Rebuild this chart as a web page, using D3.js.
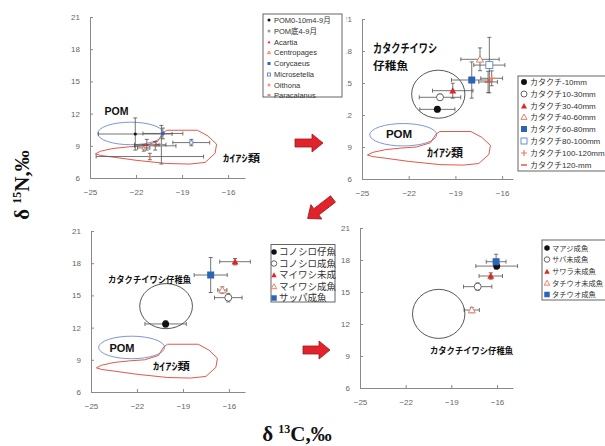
<!DOCTYPE html>
<html><head><meta charset="utf-8">
<script src="https://cdn.jsdelivr.net/npm/d3@7"></script>
<style>body{margin:0;background:#fff}</style>
</head><body>
<svg id="c" width="605" height="446"></svg>
<script>
// Axis ticks shared by the four δ13C–δ15N panels
const xTicks = [-25, -22, -19, -16];
const yTicks = [6, 9, 12, 15, 18, 21];

// Panel A: POM and copepods
const zooNames = ["POM0-10m4-9月", "POM底4-9月", "Acartia", "Centropages", "Corycaeus", "Microsetella", "Oithona", "Paracalanus"];
const zooC    = [-22.05, -20.35, -21.3, -21.5, -20.25, -18.4, -21.1, -20.75];
const zooN    = [10.1, 9.1, 9.1, 8.8, 10.15, 9.3, 8.0, 9.0];
const zooCErr = [2.4, 0.3, 0.8, 0.4, 1.3, 1.2, 3.5, 1.35];
const zooNErr = [1.5, 1.8, 0.5, 0.3, 0.5, 0.3, 0.3, 0.4];

// Panel B: カタクチイワシ by body length
const anchNames = ["カタクチ-10mm", "カタクチ10-30mm", "カタクチ30-40mm", "カタクチ40-60mm", "カタクチ60-80mm", "カタクチ80-100mm", "カタクチ100-120mm", "カタクチ120-mm"];
const anchC    = [-20.16, -19.99, -19.17, -17.42, -17.95, -16.82, -16.67, -16.9];
const anchN    = [12.53, 13.66, 14.28, 17.22, 15.28, 16.68, 15.44, 15.1];
const anchCErr = [1.13, 1.33, 1.3, 1.23, 1.3, 1.0, 0.7, 0.6];
const anchNErr = [0.25, 0.3, 0.7, 1.07, 1.7, 2.6, 0.7, 1.0];

// Panel C: planktivorous fishes
const fishCNames = ["コノシロ仔魚", "コノシロ成魚", "マイワシ未成", "マイワシ成魚", "サッパ成魚"];
const fishCC    = [-20.13, -16.04, -15.6, -16.43, -17.19];
const fishCN    = [12.34, 14.79, 18.14, 15.5, 16.9];
const fishCCErr = [1.35, 0.9, 1.0, 0.3, 1.08];
const fishCNErr = [0.3, 0.4, 0.3, 0.3, 1.63];

// Panel D: piscivorous fishes
const fishDNames = ["マアジ成魚", "サバ未成魚", "サワラ未成魚", "タチウオ未成魚", "タチウオ成魚"];
const fishDC    = [-16.02, -17.27, -16.41, -17.66, -16.06];
const fishDN    = [17.43, 15.5, 16.5, 13.31, 17.84];
const fishDCErr = [1.37, 0.93, 0.77, 0.5, 0.65];
const fishDNErr = [0.25, 0.35, 0.3, 0.25, 0.7];

// Reference regions (δ13C, δ15N)
const copepodC = [-24.65, -24.3, -23.5, -22.5, -21.5, -20.6, -20.25, -20.0, -18.0, -17.3, -16.75, -16.85, -17.5, -18.5, -20.0, -22.0, -23.5, -24.3];
const copepodN = [8.25, 8.5, 8.75, 8.9, 9.0, 9.4, 10.2, 10.45, 10.45, 9.9, 9.15, 8.3, 7.45, 7.3, 7.35, 7.65, 7.95, 8.1];
const pomEllipse = [-22.35, 10.15, 2.15, 1.05];      // centre C, centre N, half-width, half-height
const anchCircleB = [-20.1, 13.95, 1.71, 2.25];
const anchCircleC = [-20.1, 14.0, 1.72, 2.1];
const anchCircleD = [-19.83, 12.95, 1.72, 2.3];

// Marker styles
const zooStyle  = [["circle", "#111"], ["circle", "#9a9a9a"], ["tri", "#e02626"], ["triOpen", "#e8735c"], ["square", "#2c64b8"], ["squareOpen", "#5a86c8"], ["plus", "#f07a5a"], ["dash", "#e84a3a"]];
const anchStyle = [["circle", "#111"], ["circleOpen", "#555"], ["tri", "#e02626"], ["triOpen", "#e8735c"], ["square", "#2c64b8"], ["squareOpen", "#5a86c8"], ["plus", "#f07a5a"], ["dash", "#e84a3a"]];
const fishStyle = [["circle", "#111"], ["circleOpen", "#555"], ["tri", "#e02626"], ["triOpen", "#e8735c"], ["square", "#2c64b8"]];

const svg = d3.select("#c");
const jp = "'Noto Sans CJK JP', sans-serif";
const sans = "'Liberation Sans', Arial, 'Noto Sans CJK JP', sans-serif";

function makePanel(xr, xmax, yr) {
  return {
    x: d3.scaleLinear().domain([-25, xmax]).range(xr),
    y: d3.scaleLinear().domain([6, 21]).range(yr)
  };
}
const PA = makePanel([90, 245], -14.9, [178, 17]);
const PB = makePanel([362, 513], -15.3, [179, 19]);
const PC = makePanel([91, 245], -14.95, [392, 231]);
const PD = makePanel([360, 513], -14.95, [388, 228]);

function drawAxes(P, clipX) {
  const g = svg.append("g");
  const ax = g.append("g").attr("transform", `translate(0,${P.y(6)})`)
    .call(d3.axisBottom(P.x).tickValues(xTicks).tickSizeInner(-3).tickSizeOuter(0).tickPadding(11));
  const ay = g.append("g").attr("transform", `translate(${P.x(-25)},0)`)
    .call(d3.axisLeft(P.y).tickValues(yTicks).tickSizeInner(-3).tickSizeOuter(0).tickPadding(10));
  [ax, ay].forEach(a => {
    a.select(".domain").attr("stroke", "#8a8a8a");
    a.selectAll(".tick line").attr("stroke", "#8a8a8a");
    a.selectAll(".tick text").attr("fill", "#666").attr("font-family", sans).attr("font-size", 8);
  });
  if (clipX !== undefined) {
    const id = "clipY" + Math.round(clipX);
    svg.append("clipPath").attr("id", id).append("rect")
      .attr("x", clipX - P.x(-25)).attr("y", -20).attr("width", 40).attr("height", 400);
    ay.selectAll(".tick text").attr("clip-path", `url(#${id})`);
  }
  return g;
}

function drawCopepods(P) {
  const line = d3.line().x(d => P.x(d[0])).y(d => P.y(d[1])).curve(d3.curveLinearClosed);
  svg.append("path").attr("d", line(d3.zip(copepodC, copepodN)))
    .attr("fill", "none").attr("stroke", "#e2584a").attr("stroke-width", 1);
}
function drawPom(P) {
  const [c, n, rc, rn] = pomEllipse;
  svg.append("ellipse").attr("cx", P.x(c)).attr("cy", P.y(n))
    .attr("rx", P.x(c + rc) - P.x(c)).attr("ry", P.y(n) - P.y(n + rn))
    .attr("fill", "none").attr("stroke", "#7b98d4").attr("stroke-width", 1);
}
function drawRing(P, e) {
  const [c, n, rc, rn] = e;
  svg.append("ellipse").attr("cx", P.x(c)).attr("cy", P.y(n))
    .attr("rx", P.x(c + rc) - P.x(c)).attr("ry", P.y(n) - P.y(n + rn))
    .attr("fill", "none").attr("stroke", "#444").attr("stroke-width", 0.9);
}

function marker(g, type, color, cx, cy, s) {
  const h = s / 2;
  if (type === "circle" || type === "circleOpen") {
    g.append("circle").attr("cx", cx).attr("cy", cy).attr("r", h)
      .attr("fill", type === "circle" ? color : "#fff")
      .attr("stroke", color).attr("stroke-width", type === "circle" ? 0 : 0.9);
  } else if (type === "tri" || type === "triOpen") {
    g.append("path").attr("d", `M${cx},${cy - h}L${cx + h},${cy + h * 0.8}L${cx - h},${cy + h * 0.8}Z`)
      .attr("fill", type === "tri" ? color : "#fff").attr("stroke", color).attr("stroke-width", type === "tri" ? 0 : 0.9);
  } else if (type === "square" || type === "squareOpen") {
    g.append("rect").attr("x", cx - h).attr("y", cy - h).attr("width", s).attr("height", s)
      .attr("fill", type === "square" ? color : "#fff").attr("stroke", color).attr("stroke-width", type === "square" ? 0 : 0.9);
  } else if (type === "plus") {
    g.append("path").attr("d", `M${cx - h},${cy}H${cx + h}M${cx},${cy - h}V${cy + h}`)
      .attr("stroke", color).attr("stroke-width", 1.2);
  } else if (type === "dash") {
    g.append("path").attr("d", `M${cx - h},${cy}H${cx + h}`).attr("stroke", color).attr("stroke-width", 1.4);
  }
}

function drawPoints(P, cs, ns, ces, nes, style, size) {
  const g = svg.append("g");
  const cap = 2;
  cs.forEach((c, i) => {
    const px = P.x(c), py = P.y(ns[i]);
    const x0 = P.x(c - ces[i]), x1 = P.x(c + ces[i]);
    const y0 = P.y(ns[i] - nes[i]), y1 = P.y(ns[i] + nes[i]);
    g.append("path")
      .attr("d", `M${x0},${py}H${x1}M${x0},${py - cap}V${py + cap}M${x1},${py - cap}V${py + cap}` +
                 `M${px},${y0}V${y1}M${px - cap},${y0}H${px + cap}M${px - cap},${y1}H${px + cap}`)
      .attr("fill", "none").attr("stroke", "#505050").attr("stroke-width", 0.8);
  });
  cs.forEach((c, i) => marker(g, style[i][0], style[i][1], P.x(c), P.y(ns[i]), size));
}

function label(P, text, c, n, opts) {
  const t = svg.append("text").attr("x", P.x(c)).attr("y", P.y(n)).text(text)
    .attr("font-family", opts.font || jp).attr("font-weight", "bold")
    .attr("font-size", opts.size).attr("fill", "#111")
    .attr("text-anchor", opts.anchor || "start");
  if (opts.len) t.attr("textLength", opts.len).attr("lengthAdjust", "spacingAndGlyphs");
}

function legend(box, names, style, rows, mx, tx, size, fsize) {
  const g = svg.append("g");
  g.append("rect").attr("x", box[0]).attr("y", box[1]).attr("width", box[2]).attr("height", box[3])
    .attr("fill", "#fff").attr("stroke", "#555").attr("stroke-width", 0.9);
  names.forEach((nm, i) => {
    marker(g, style[i][0], style[i][1], mx, rows[i], size);
    g.append("text").attr("x", tx).attr("y", rows[i] + fsize * 0.36).text(nm)
      .attr("font-family", sans).attr("font-size", fsize).attr("fill", "#333");
  });
}

// ---- Panel B (drawn first so panel A's legend sits on top) ----
drawAxes(PB, 346.5);
drawPom(PB);
drawCopepods(PB);
drawRing(PB, anchCircleB);
drawPoints(PB, anchC, anchN, anchCErr, anchNErr, anchStyle, 7);
label(PB, "カタクチイワシ", -24.29, 17.78, {size: 12, len: 64});
label(PB, "仔稚魚", -24.29, 16.25, {size: 11.5, len: 35});
label(PB, "POM", -22.62, 9.84, {size: 11.5, anchor: "middle", font: sans});
label(PB, "ｶｲｱｼ類", -19.67, 8.06, {size: 11, anchor: "middle", len: 36});
legend([518, 76, 95, 95], anchNames, anchStyle, [82, 94, 106, 117, 129, 141, 153, 165], 524, 530, 6, 8);

// ---- Panel A ----
drawAxes(PA);
drawPom(PA);
drawCopepods(PA);
drawPoints(PA, zooC, zooN, zooCErr, zooNErr, zooStyle, 3.2);
label(PA, "POM", -23.27, 11.87, {size: 10.5, anchor: "middle", font: sans});
label(PA, "ｶｲｱｼ類", -15.13, 7.49, {size: 10, anchor: "middle", len: 37});
legend([263, 14, 79, 83], zooNames, zooStyle, [20, 31, 42, 52.5, 63.5, 74.5, 85, 95], 269, 274, 3, 7.5);

// ---- Panel C ----
drawAxes(PC);
drawPom(PC);
drawCopepods(PC);
drawRing(PC, anchCircleC);
drawPoints(PC, fishCC, fishCN, fishCCErr, fishCNErr, fishStyle, 7);
label(PC, "カタクチイワシ仔稚魚", -23.89, 16.16, {size: 9, len: 83});
label(PC, "POM", -22.98, 9.73, {size: 11, anchor: "middle", font: sans});
label(PC, "ｶｲｱｼ類", -19.75, 8.05, {size: 10.5, anchor: "middle", len: 37});
legend([271, 244.5, 64, 57.5], fishCNames, fishStyle, [252, 263.5, 275, 286.5, 298], 274, 279, 5.5, 9.5);

// ---- Panel D ----
drawAxes(PD);
drawRing(PD, anchCircleD);
drawPoints(PD, fishDC, fishDN, fishDCErr, fishDNErr, fishStyle, 7);
label(PD, "カタクチイワシ仔稚魚", -20.4, 9.19, {size: 9, len: 83});
legend([542, 240, 70, 60], fishDNames, fishStyle, [248, 259.5, 271.5, 283, 294.5], 547, 552, 5.5, 7.3);

// ---- Arrows linking the panels ----
const arrowShape = len => `M0,-4L${len - 11},-4L${len - 11},-9L${len},0L${len - 11},9L${len - 11},4L0,4Z`;
[[295, 143, 0, 28], [333, 199, 142.4, 32], [303, 350, 0, 27]].forEach(([x, y, a, len]) => {
  svg.append("path").attr("d", arrowShape(len))
    .attr("transform", `translate(${x},${y}) rotate(${a})`)
    .attr("fill", "#e3232b").attr("stroke", "#9a1b1b").attr("stroke-width", 0.8);
});

// ---- Axis titles ----
const yt = svg.append("text").attr("transform", "translate(29,185) rotate(-90)")
  .attr("text-anchor", "middle").attr("font-family", "'Liberation Serif', 'Times New Roman', serif")
  .attr("font-weight", "bold").attr("font-size", 21).attr("fill", "#111");
yt.append("tspan").text("δ ");
yt.append("tspan").attr("font-size", 12).attr("dy", -8).text("15");
yt.append("tspan").attr("dy", 8).text("N,‰");

const xt = svg.append("text").attr("x", 297).attr("y", 441)
  .attr("text-anchor", "middle").attr("font-family", "'Liberation Serif', 'Times New Roman', serif")
  .attr("font-weight", "bold").attr("font-size", 21).attr("fill", "#111");
xt.append("tspan").text("δ ");
xt.append("tspan").attr("font-size", 12).attr("dy", -8).text("13");
xt.append("tspan").attr("dy", 8).text("C,‰");
</script>
</body></html>
